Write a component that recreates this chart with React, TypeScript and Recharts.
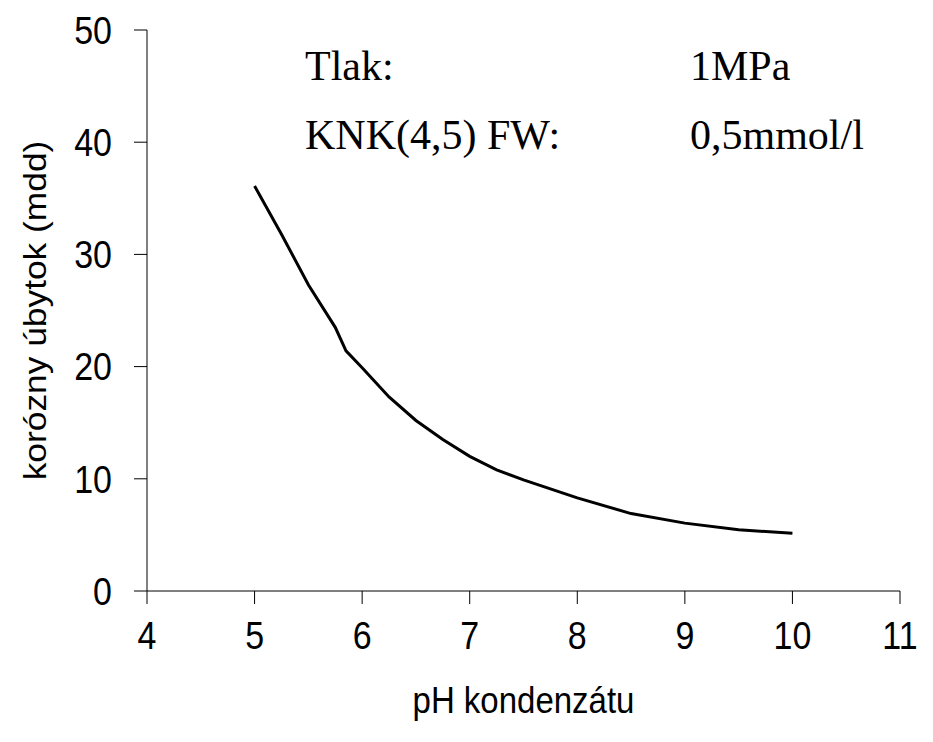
import { LineChart, Line, XAxis, YAxis, Label } from "recharts"

// pH kondenzátu
const phValues = [5, 5.25, 5.5, 5.75, 5.85, 6, 6.25, 6.5, 6.75, 7, 7.25, 7.5, 8, 8.5, 9, 9.5, 10]
// korózny úbytok (mdd)
const lossValues = [36.1, 31.8, 27.3, 23.5, 21.4, 19.9, 17.3, 15.2, 13.5, 12.0, 10.8, 9.9, 8.3, 6.9, 6.05, 5.45, 5.15]

const xTicks = [4, 5, 6, 7, 8, 9, 10, 11]
const yTicks = [0, 10, 20, 30, 40, 50]

const noteLabels = ["Tlak:", "KNK(4,5) FW:"]
const noteValues = ["1MPa", "0,5mmol/l"]

const data = phValues.map((ph, i) => ({ ph, loss: lossValues[i] }))

const sans = "'Liberation Sans', Arial, sans-serif"
const serif = "'Liberation Serif', 'Times New Roman', serif"
const STRETCH = 1.14 // the original's sans text is a bit taller than wide

// eslint-disable-next-line @typescript-eslint/no-explicit-any
const XTick = ({ x, y, payload }: any) => (
  <g transform={`translate(${x},${y}) scale(1,${STRETCH})`}>
    <text x={0} y={0} dy="0.71em" textAnchor="middle" fill="#000" fontSize={34} fontFamily={sans}>
      {payload.value}
    </text>
  </g>
)

// eslint-disable-next-line @typescript-eslint/no-explicit-any
const YTick = ({ x, y, payload }: any) => (
  <g transform={`translate(${x},${y}) scale(1,${STRETCH})`}>
    <text x={0} y={0} dy="0.355em" textAnchor="end" fill="#000" fontSize={34} fontFamily={sans}>
      {payload.value}
    </text>
  </g>
)

// eslint-disable-next-line @typescript-eslint/no-explicit-any
const XTitle = ({ viewBox }: any) => (
  <g transform={`translate(${viewBox.x + viewBox.width / 2},${viewBox.y + 122}) scale(1,${STRETCH})`}>
    <text x={0} y={0} textAnchor="middle" fill="#000" fontSize={33} fontFamily={sans}>
      pH kondenzátu
    </text>
  </g>
)

// eslint-disable-next-line @typescript-eslint/no-explicit-any
const YTitle = ({ viewBox }: any) => (
  <g transform={`translate(38,${viewBox.y + viewBox.height / 2}) rotate(-90) scale(${STRETCH},1)`}>
    <text x={0} y={0} textAnchor="middle" fill="#000" fontSize={31} fontFamily={sans}>
      korózny úbytok (mdd)
    </text>
  </g>
)

export default function App() {
  return (
    <div style={{ position: "relative", width: 917, height: 734, marginBottom: -8 }}>
      <LineChart
        width={917}
        height={734}
        data={data}
        margin={{ top: 22, right: 25, left: 0, bottom: 21 }}
      >
        <XAxis
          type="number"
          dataKey="ph"
          domain={[4, 11]}
          ticks={xTicks}
          interval={0}
          height={130}
          stroke="#000"
          tickSize={13}
          tickMargin={17}
          tick={<XTick />}
        >
          <Label content={<XTitle />} />
        </XAxis>
        <YAxis
          type="number"
          domain={[0, 50]}
          ticks={yTicks}
          interval={0}
          width={139}
          stroke="#000"
          tickSize={13}
          tickMargin={22}
          tick={<YTick />}
        >
          <Label content={<YTitle />} />
        </YAxis>
        <Line
          type="linear"
          dataKey="loss"
          stroke="#000"
          strokeWidth={3}
          dot={false}
          isAnimationActive={false}
        />
      </LineChart>
      <svg
        width={917}
        height={200}
        style={{ position: "absolute", left: 0, top: 0, pointerEvents: "none" }}
      >
        {noteLabels.map((label, i) => (
          <g key={label} fontFamily={serif} fontSize={42} fill="#000">
            <text x={297} y={72 + i * 69}>{label}</text>
            <text x={682} y={72 + i * 69}>{noteValues[i]}</text>
          </g>
        ))}
      </svg>
    </div>
  )
}
